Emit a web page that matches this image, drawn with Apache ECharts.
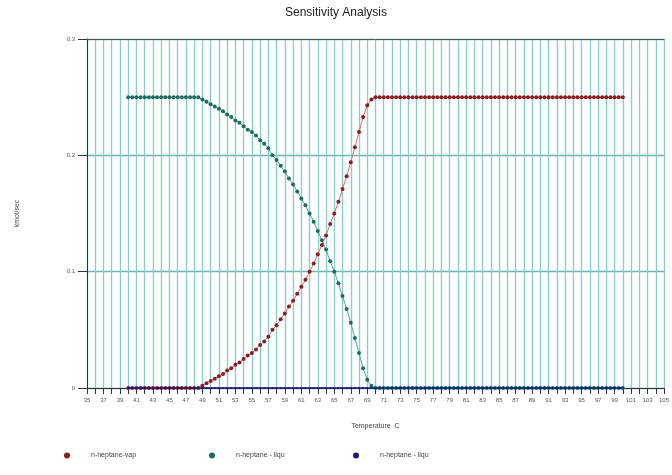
<!DOCTYPE html>
<html><head><meta charset="utf-8">
<script src="https://cdn.jsdelivr.net/npm/echarts@6/dist/echarts.min.js"></script>
<style>html,body{margin:0;padding:0;background:#fff}#c{width:672px;height:475px}</style>
</head><body><div id="c"></div>
<script>
var temps = [40,40.5,41,41.5,42,42.5,43,43.5,44,44.5,45,45.5,46,46.5,47,47.5,48,48.5,
49,49.5,50,50.5,51,51.5,52,52.5,53,53.5,54,54.5,55,55.5,56,56.5,57,57.5,58,58.5,59,59.5,
60,60.5,61,61.5,62,62.5,63,63.5,64,64.5,65,65.5,66,66.5,67,67.5,68,68.5,69,69.5,
70,70.5,71,71.5,72,72.5,73,73.5,74,74.5,75,75.5,76,76.5,77,77.5,78,78.5,79,79.5,
80,80.5,81,81.5,82,82.5,83,83.5,84,84.5,85,85.5,86,86.5,87,87.5,88,88.5,89,89.5,
90,90.5,91,91.5,92,92.5,93,93.5,94,94.5,95,95.5,96,96.5,97,97.5,98,98.5,99,99.5,100];

var vapValues = [0,0,0,0,0,0,0,0,0,0,0,0,0,0,0,0,0,0,
0.002,0.004,0.006,0.008,0.010,0.012,0.015,0.017,0.020,0.022,0.025,0.028,0.030,0.033,0.037,0.040,0.044,0.050,0.054,0.059,0.064,0.070,
0.075,0.081,0.087,0.093,0.100,0.107,0.115,0.123,0.131,0.141,0.150,0.160,0.171,0.182,0.194,0.207,0.220,0.233,0.243,0.248,
0.25,0.25,0.25,0.25,0.25,0.25,0.25,0.25,0.25,0.25,0.25,0.25,0.25,0.25,0.25,0.25,0.25,0.25,0.25,0.25,
0.25,0.25,0.25,0.25,0.25,0.25,0.25,0.25,0.25,0.25,0.25,0.25,0.25,0.25,0.25,0.25,0.25,0.25,0.25,0.25,
0.25,0.25,0.25,0.25,0.25,0.25,0.25,0.25,0.25,0.25,0.25,0.25,0.25,0.25,0.25,0.25,0.25,0.25,0.25,0.25,0.25];

var liqValues = [0.25,0.25,0.25,0.25,0.25,0.25,0.25,0.25,0.25,0.25,0.25,0.25,0.25,0.25,0.25,0.25,0.25,0.25,
0.248,0.246,0.244,0.242,0.240,0.238,0.235,0.233,0.230,0.228,0.225,0.222,0.220,0.217,0.213,0.210,0.206,0.200,0.196,0.191,0.186,0.180,
0.175,0.169,0.163,0.157,0.150,0.143,0.135,0.127,0.119,0.109,0.100,0.090,0.079,0.068,0.056,0.043,0.030,0.017,0.007,0.002,
0,0,0,0,0,0,0,0,0,0,0,0,0,0,0,0,0,0,0,0,
0,0,0,0,0,0,0,0,0,0,0,0,0,0,0,0,0,0,0,0,
0,0,0,0,0,0,0,0,0,0,0,0,0,0,0,0,0,0,0,0,0];

var liq2Values = [0,0,0,0,0,0,0,0,0,0,0,0,0,0,0,0,0,0,
0,0,0,0,0,0,0,0,0,0,0,0,0,0,0,0,0,0,0,0,0,0,
0,0,0,0,0,0,0,0,0,0,0,0,0,0,0,0,0,0,0,0,
0,0,0,0,0,0,0,0,0,0,0,0,0,0,0,0,0,0,0,0,
0,0,0,0,0,0,0,0,0,0,0,0,0,0,0,0,0,0,0,0,
0,0,0,0,0,0,0,0,0,0,0,0,0,0,0,0,0,0,0,0,0];

var seriesNames = ['n-heptane-vap', 'n-heptane - liqu', 'n-heptane - liqu '];

function pairs(vals){ return temps.map(function(t,i){ return [t, vals[i]]; }); }

var font = 'Liberation Sans, Arial, sans-serif';
var chart = echarts.init(document.getElementById('c'));
function legendAt(name, left){
  return {
    data: [name], left: left, top: 447, icon: 'circle', itemWidth: 6, itemHeight: 6,
    textStyle: { fontSize: 7, color: '#444', fontFamily: font, padding: [0,0,0,16] }
  };
}
chart.setOption({
  animation: false,
  backgroundColor: '#fff',
  title: { text: 'Sensitivity Analysis', left: 'center', top: 2,
    textStyle: { fontSize: 12, fontWeight: 'normal', color: '#222', fontFamily: font } },
  legend: [legendAt(seriesNames[0], 59), legendAt(seriesNames[1], 204), legendAt(seriesNames[2], 348)],
  grid: { left: 87, right: 7, top: 39, bottom: 87, containLabel: false },
  xAxis: [{
    type: 'value', min: 35, max: 105, interval: 1,
    name: 'Temperature  C', nameLocation: 'middle', nameGap: 35,
    nameTextStyle: { fontSize: 7, color: '#444', fontFamily: font },
    axisLine: { show: true, onZero: false, lineStyle: { color: '#333', width: 1 } },
    axisTick: { show: true, length: 6, lineStyle: { color: '#333' } },
    axisLabel: { fontSize: 6, color: '#555', fontFamily: font, margin: 9,
      formatter: function(v){ return (Math.round(v) % 2 === 1) ? String(v) : ''; } },
    splitLine: { show: true, lineStyle: { color: '#8ccccc', width: 1.4 } }
  }, {
    type: 'value', min: 35, max: 105, interval: 1, position: 'top',
    axisLine: { show: true, onZero: false, lineStyle: { color: '#555', width: 1 } },
    axisTick: { show: false }, axisLabel: { show: false }, splitLine: { show: false }
  }],
  yAxis: {
    type: 'value', min: 0, max: 0.3, interval: 0.1,
    name: 'kmol/sec', nameLocation: 'middle', nameGap: 66, nameRotate: 90,
    nameTextStyle: { fontSize: 7, color: '#444', fontFamily: font },
    axisLine: { show: true, lineStyle: { color: '#333', width: 1 } },
    axisTick: { show: true, length: 9, lineStyle: { color: '#333' } },
    axisLabel: { fontSize: 6, color: '#555', fontFamily: font, margin: 12,
      formatter: function(v){ return String(Math.round(v*10)/10); } },
    splitLine: { show: true, lineStyle: { color: '#6ab4b4', width: 1.4 } }
  },
  series: [
    { name: seriesNames[1], type: 'line', data: pairs(liqValues), symbol: 'circle', symbolSize: 4,
      itemStyle: { color: '#1e6b5f' }, lineStyle: { color: '#4aa49a', width: 1 }, z: 3 },
    { name: seriesNames[0], type: 'line', data: pairs(vapValues), symbol: 'circle', symbolSize: 4,
      itemStyle: { color: '#8a1d22' }, lineStyle: { color: '#e06a6e', width: 1 }, z: 4 },
    { name: seriesNames[2], type: 'line', data: pairs(liq2Values), symbol: 'circle', symbolSize: 2,
      itemStyle: { color: '#1a1a80' }, lineStyle: { color: '#1a1a80', width: 1.5 }, z: 5 }
  ]
});
</script></body></html>
